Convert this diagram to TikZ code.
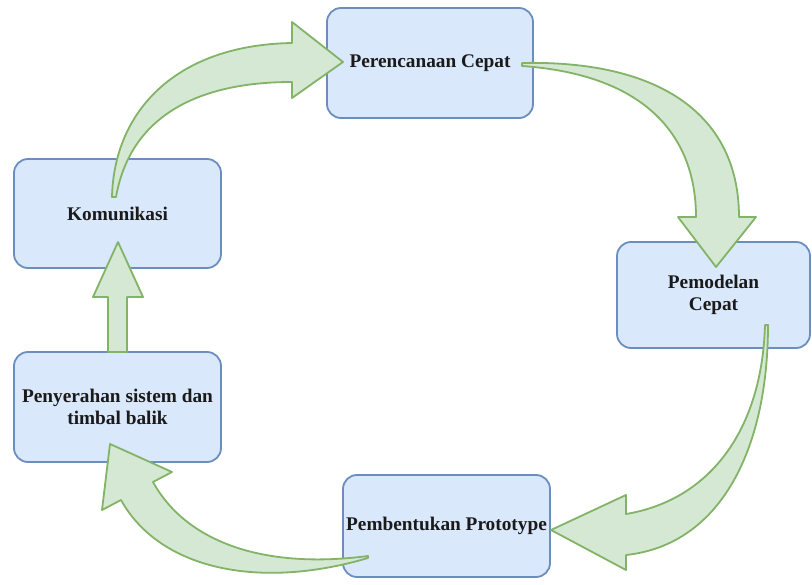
\documentclass[tikz,border=0pt]{standalone}
\usepackage{fontspec}
\setmainfont{Liberation Serif}
\definecolor{boxfill}{HTML}{DAE8FC}
\definecolor{boxline}{HTML}{6C8EBF}
\definecolor{arrfill}{HTML}{D5E8D4}
\definecolor{arrline}{HTML}{82B366}
\definecolor{txt}{HTML}{1A1A1A}
\begin{document}
\begin{tikzpicture}[x=1pt,y=-1pt,
  stagebox/.style={draw=boxline, fill=boxfill, line width=1.8pt, rounded corners=14pt,
    inner sep=0pt, align=center, text=txt, font=\bfseries\fontsize{19.3}{22}\selectfont},
  fatarrow/.style={draw=arrline, fill=arrfill, line width=1.8pt, line join=round}]
\useasboundingbox (0,0) rectangle (812,585);
\fill[white] (0,0) rectangle (812,585);
% stages
\node[stagebox, minimum width=206pt, minimum height=110pt] (plan) at (430,63) {Perencanaan Cepat};
\node[stagebox, minimum width=207pt, minimum height=109pt] (kom) at (117.5,213.5) {Komunikasi};
\node[stagebox, minimum width=193pt, minimum height=106pt] (model) at (713.5,295) {Pemodelan\\Cepat};
\node[stagebox, minimum width=207pt, minimum height=110pt] (peny) at (117.5,407) {Penyerahan sistem dan\\timbal balik};
\node[stagebox, minimum width=207pt, minimum height=102pt] (proto) at (446.5,526) {Pembentukan Prototype};
% Komunikasi -> Perencanaan Cepat
\draw[fatarrow] (112,197) .. controls (114,112) and (175,45) .. (292,43) -- (292,22) -- (343,62)
  -- (292,98) -- (292,82) .. controls (195,82) and (130,118) .. (116,197) -- cycle;
% Perencanaan Cepat -> Pemodelan Cepat
\draw[fatarrow] (522,63) .. controls (660,60) and (739,115) .. (739,217) -- (756,217) -- (716,267)
  -- (678,217) -- (696,217) .. controls (696,140) and (650,75) .. (522,66) -- cycle;
% Pemodelan Cepat -> Pembentukan Prototype
\draw[fatarrow] (768,325) .. controls (768,450) and (720,545) .. (626,555) -- (626,570) -- (551,530)
  -- (626,495) -- (626,514) .. controls (710,500) and (762,430) .. (765,325) -- cycle;
% Pembentukan Prototype -> Penyerahan
\draw[fatarrow] (368,556) .. controls (260,570) and (185,540) .. (153,482) -- (172,472) -- (110,444)
  -- (102,510) -- (121,500) .. controls (160,570) and (260,590) .. (368,558) -- cycle;
% Penyerahan -> Komunikasi
\draw[fatarrow] (108,352) -- (108,297) -- (93,297) -- (118,242) -- (143,297) -- (127,297) -- (127,352) -- cycle;
\end{tikzpicture}
\end{document}
